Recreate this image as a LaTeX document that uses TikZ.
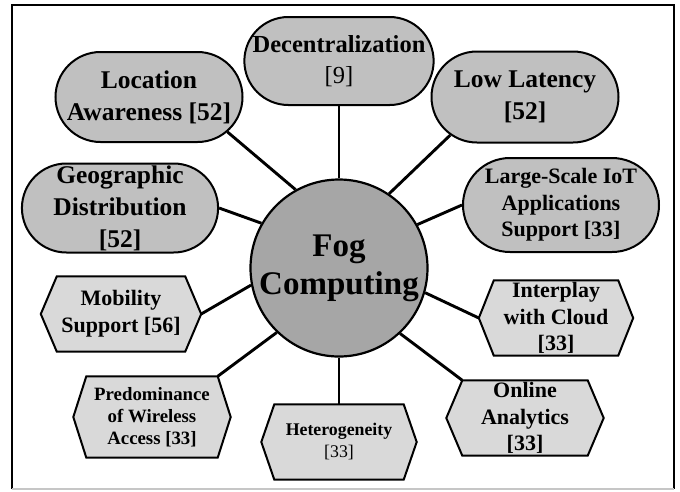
\documentclass[tikz,border=0pt]{standalone}
\usepackage{fontspec}
\setmainfont{Liberation Serif}
\usetikzlibrary{shapes.misc,calc}
\pgfdeclarelayer{bg}
\pgfdeclarelayer{mid}
\pgfsetlayers{bg,mid,main}
\definecolor{stadfill}{RGB}{192,192,192}
\definecolor{hexfill}{RGB}{217,217,217}
\definecolor{fogfill}{RGB}{166,166,166}
\tikzset{
  stad/.style={rounded rectangle, draw, line width=2pt, fill=stadfill, align=center, inner sep=0pt},
  hexn/.style={rectangle, align=center, inner sep=0pt},
  hexline/.style={draw, line width=2pt, fill=hexfill, line join=miter},
  conn/.style={line width=2.9pt},
  fA/.style={font=\fontsize{25.5}{32}\selectfont\bfseries},
  fB/.style={font=\fontsize{22}{26.7}\selectfont\bfseries},
  fC/.style={font=\fontsize{18.8}{22}\selectfont\bfseries},
  fD/.style={font=\fontsize{17.8}{22}\selectfont\bfseries},
  fE/.style={font=\fontsize{24.5}{31}\selectfont\bfseries},
  fF/.style={font=\fontsize{33}{38}\selectfont\bfseries},
}
\newcommand\hexpath[2]{%
  \begin{pgfonlayer}{mid}
  \filldraw[hexline] (#1.west) -- ([xshift=#2]#1.north west) -- ([xshift=-#2]#1.north east) -- (#1.east) -- ([xshift=-#2]#1.south east) -- ([xshift=#2]#1.south west) -- cycle;
  \end{pgfonlayer}}
\begin{document}
\begin{tikzpicture}[x=1pt,y=-1pt]
\useasboundingbox (0,0) rectangle (680,491);
\begin{pgfonlayer}{bg}
\fill[white] (0,0) rectangle (680,491);
\end{pgfonlayer}
\draw[line width=2pt] (12,489) -- (12,5) -- (674,5) -- (674,489);
\draw[line width=1.5pt, gray!45] (12,489) -- (674,489);

\node[circle, draw, line width=2.2pt, fill=fogfill, minimum size=177pt, align=center, inner sep=0pt, fF] (fog) at (339,268) {Fog\\Computing};

\node[stad, fE, minimum width=187pt, minimum height=88pt] (dec) at (339,61) {Decentralization\\{\mdseries [9]}};
\node[stad, fA, minimum width=187pt, minimum height=90pt] (loc) at (149,97) {Location\\Awareness [52]};
\node[stad, fA, minimum width=187pt, minimum height=91pt] (low) at (525,97) {Low Latency\\{[52]}};
\node[stad, fA, minimum width=187pt, minimum height=89pt] (geo) at (120,208) {Geographic\\Distribution\\{[52]}};
\node[stad, fB, minimum width=196pt, minimum height=94pt] (lsi) at (561,205) {Large-Scale IoT\\Applications\\Support [33]};

\node[hexn, fB, minimum width=160pt, minimum height=75pt] (mob) at (121,314) {Mobility\\Support [56]};
\node[hexn, fC, minimum width=157pt, minimum height=81pt] (pre) at (152,417) {Predominance\\of Wireless\\Access [33]};
\node[hexn, fD, minimum width=155pt, minimum height=75pt] (het) at (339,442) {Heterogeneity\\{\mdseries [33]}};
\node[hexn, fB, minimum width=157pt, minimum height=75pt] (onl) at (525,418) {Online\\Analytics\\{[33]}};
\node[hexn, fB, minimum width=154pt, minimum height=75pt] (inter) at (556,318) {Interplay\\with Cloud\\{[33]}};

\hexpath{mob}{16pt}
\hexpath{pre}{13pt}
\hexpath{het}{13pt}
\hexpath{onl}{16pt}
\hexpath{inter}{15pt}

\begin{pgfonlayer}{bg}
\draw[conn] (fog.90) -- (dec.south);
\draw[conn] (fog.119) -- (loc.-24);
\draw[conn] (fog.56) -- (low.-153);
\draw[conn] (fog.150) -- (geo.east);
\draw[conn] (fog.29) -- (lsi.west);
\draw[conn] (fog.191) -- (mob.east);
\draw[conn] (fog.-16) -- (inter.west);
\draw[conn] (fog.226) -- ([xshift=-13pt]pre.north east);
\draw[conn] (fog.-47) -- ([xshift=16pt]onl.north west);
\draw[conn] (fog.-90) -- (het.north);
\end{pgfonlayer}
\end{tikzpicture}
\end{document}
